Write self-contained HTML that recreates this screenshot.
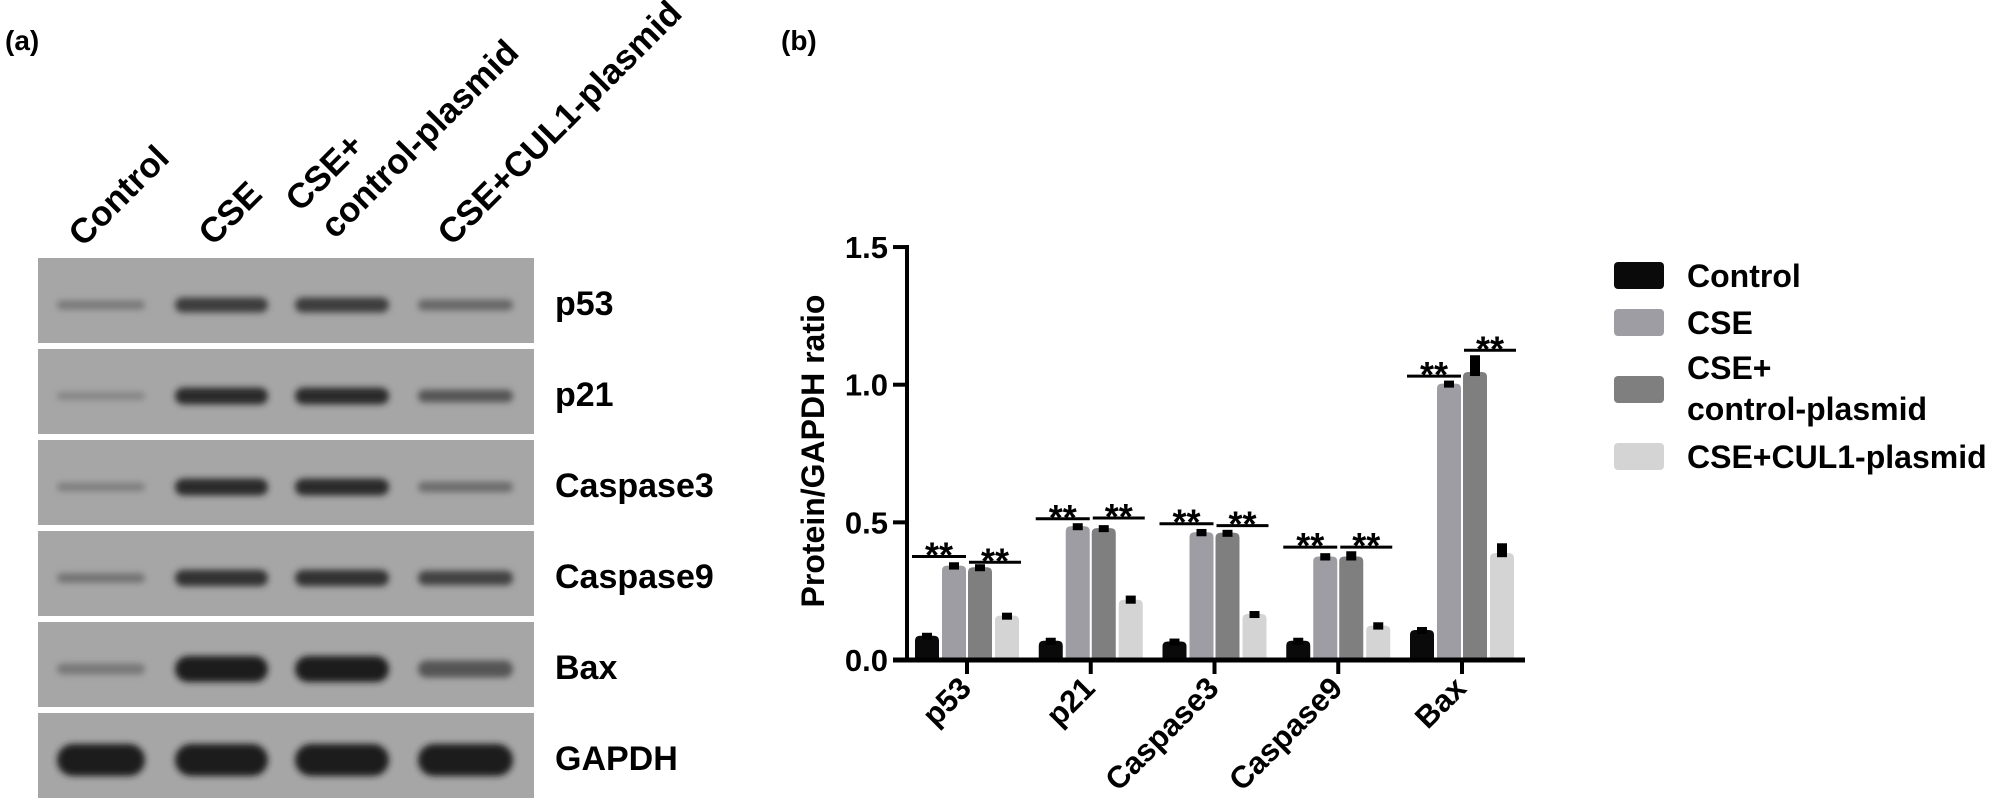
<!DOCTYPE html>
<html><head><meta charset="utf-8">
<style>
html,body{margin:0;padding:0;background:#fff;}
svg{display:block;font-family:"Liberation Sans",Arial,sans-serif;font-weight:bold;}
</style></head>
<body>
<svg id="fig" width="2000" height="807" viewBox="0 0 2000 807" xmlns="http://www.w3.org/2000/svg">
<defs>
<filter id="blur" x="-20%" y="-100%" width="140%" height="300%"><feGaussianBlur stdDeviation="3.2"/></filter>
</defs>
<text x="5" y="50" font-size="28">(a)</text>
<text x="781" y="50" font-size="28">(b)</text>
<g id="blot"></g>
<g id="chart"></g>
<g id="legend"></g>
</svg>
<script>
// ---- chart data ----
const categories = ["p53","p21","Caspase3","Caspase9","Bax"];
const groups = ["Control","CSE","CSE+ control-plasmid","CSE+CUL1-plasmid"];
const controlVals = [0.088,0.070,0.067,0.070,0.109];
const cseVals = [0.343,0.486,0.464,0.376,1.004];
const ctrlPlasmidVals = [0.337,0.479,0.462,0.376,1.046];
const cul1Vals = [0.161,0.219,0.167,0.125,0.388];
const controlErr = [0.006,0.005,0.005,0.005,0.008];
const cseErr = [0.012,0.008,0.012,0.012,0.008];
const ctrlPlasmidErr = [0.008,0.008,0.008,0.019,0.061];
const cul1Err = [0.006,0.015,0.006,0.012,0.036];
const sigLeft = [0.376,0.513,0.495,0.410,1.031];
const sigRight = [0.355,0.516,0.488,0.410,1.125];
const yTicks = [0,0.5,1.0,1.5];
const yTickLabels = ["0.0","0.5","1.0","1.5"];
// ---- blot data (band intensity 0..1) ----
const blotProteins = ["p53","p21","Caspase3","Caspase9","Bax","GAPDH"];
const blotLanes = ["Control","CSE","CSE+control-plasmid","CSE+CUL1-plasmid"];
const bandIntensity = [
  [0.25,0.75,0.75,0.4],
  [0.15,0.9,0.9,0.55],
  [0.2,0.9,0.9,0.35],
  [0.3,0.85,0.85,0.7],
  [0.25,1.0,1.0,0.55],
  [1.0,1.0,1.0,1.0]
];

const NS="http://www.w3.org/2000/svg";
function mk(tag,attrs,parent){const e=document.createElementNS(NS,tag);for(const k in attrs)e.setAttribute(k,attrs[k]);parent.appendChild(e);return e;}

// ---- blot ----
const blot=document.getElementById('blot');
const laneX=[57,175,295,418], laneW=[88,93,94,95];
blotProteins.forEach((p,i)=>{
  const top=258+i*91;
  const r=mk('rect',{x:38,y:top,width:496,height:85,fill:'#a6a6a6'},blot);
  
  
  bandIntensity[i].forEach((v,j)=>{
    const h=6+v*(p==="GAPDH"?26:(p==="Bax"?20:12));
    const shade=Math.round(150-v*120);
    const b=mk('rect',{x:laneX[j],y:top+47-h/2,width:laneW[j],height:h,rx:h/2,fill:`rgb(${shade},${shade},${shade})`,filter:'url(#blur)'},blot);
    
    
  });
  const t=mk('text',{x:555,y:top+57,'font-size':34},blot);
  t.textContent=p;
  
  
});
const laneLabels=[["Control",83,248],["CSE",213,247],["CSE+",300,213],["control-plasmid",335,240],["CSE+CUL1-plasmid",452,247]];
laneLabels.forEach(([s,x,y])=>{
  const t=mk('text',{x:x,y:y,'font-size':35,transform:`rotate(-45 ${x} ${y})`},blot);
  t.textContent=s;
  
  
});

// ---- chart ----
const chart=document.getElementById('chart');
const y0=660, pxPer=275.3, axX=907;
function yS(v){return y0-v*pxPer;}
function xS(i){return 967+i*123.75;}
const series=[controlVals,cseVals,ctrlPlasmidVals,cul1Vals];
const errs=[controlErr,cseErr,ctrlPlasmidErr,cul1Err];
const colors=['#0a0a0a','#9d9da3','#7f7f7f','#d4d4d4'];
const offs=[-40,-13,13,40];
categories.forEach((c,i)=>{
  series.forEach((s,k)=>{
    const v=s[i], x=xS(i)+offs[k]-12, y=yS(v);
    const p=mk('path',{d:`M${x},${y0} L${x},${y+5} Q${x},${y} ${x+5},${y} L${x+19},${y} Q${x+24},${y} ${x+24},${y+5} L${x+24},${y0} Z`,fill:colors[k]},chart);
    
    
    const ey=yS(v+errs[k][i]);
    const eh=Math.max(7,y-ey+4);
    const e=mk('rect',{x:xS(i)+offs[k]-5,y:Math.min(ey,y-3),width:10,height:eh,fill:'#000'},chart);
    
    
  });
  [[sigLeft[i],-55,-1],[sigRight[i],2,54]].forEach(([v,a,b])=>{
    const ly=yS(v);
    const l=mk('line',{x1:xS(i)+a,x2:xS(i)+b,y1:ly,y2:ly,stroke:'#000','stroke-width':3},chart);
    
    
    const t=mk('text',{x:xS(i)+(a+b)/2,y:ly+11,'font-size':36,'text-anchor':'middle'},chart);
    t.textContent='**';
    
    
  });
  const tk=mk('line',{x1:xS(i),x2:xS(i),y1:y0,y2:y0+14,stroke:'#000','stroke-width':4},chart);
  
  
  const lx=xS(i)+6, ly=y0+30;
  const t=mk('text',{x:lx,y:ly,'font-size':31,'text-anchor':'end',transform:`rotate(-45 ${lx} ${ly})`},chart);
  t.textContent=c;
  
  
});
const ya=mk('line',{x1:axX,x2:axX,y1:yS(1.5)-2,y2:y0+2,stroke:'#000','stroke-width':4},chart);


const xa=mk('line',{x1:893,x2:1525,y1:y0,y2:y0,stroke:'#000','stroke-width':5},chart);


yTicks.forEach((v,i)=>{
  const l=mk('line',{x1:893,x2:axX,y1:yS(v),y2:yS(v),stroke:'#000','stroke-width':4},chart);
  
  
  const t=mk('text',{x:888,y:yS(v)+11,'font-size':31,'text-anchor':'end'},chart);
  t.textContent=yTickLabels[i];
  
  
});
const yt=mk('text',{x:824,y:451,'font-size':32,'text-anchor':'middle',transform:'rotate(-90 824 451)'},chart);
yt.textContent='Protein/GAPDH ratio';



// ---- legend ----
const leg=document.getElementById('legend');
const swY=[262,309,376,443];
const labelLines=[[["Control",287]],[["CSE",334]],[["CSE+",379],["control-plasmid",420]],[["CSE+CUL1-plasmid",468]]];
groups.forEach((g,k)=>{
  const r=mk('rect',{x:1614,y:swY[k],width:50,height:27,rx:4,fill:colors[k]},leg);
  
  
  labelLines[k].forEach(([s,y])=>{
    const t=mk('text',{x:1687,y:y,'font-size':32},leg);
    t.textContent=s;
    
    
  });
});
</script>
</body></html>
